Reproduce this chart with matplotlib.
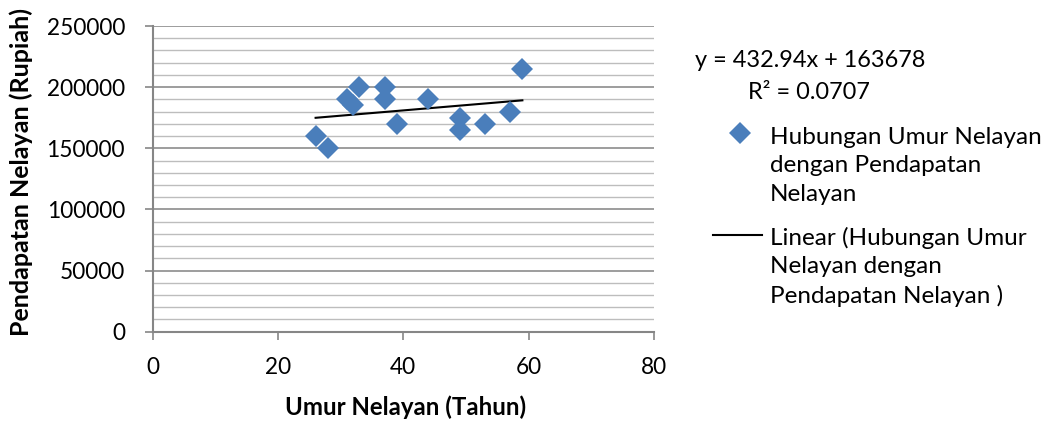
import numpy as np
import matplotlib
matplotlib.use("Agg")
import matplotlib.pyplot as plt
from matplotlib.lines import Line2D
from matplotlib.ticker import MultipleLocator

plt.rcParams['font.family'] = ['Lato', 'DejaVu Sans']

# Age of fishermen (years) and their income (Rupiah)
umur = [26, 28, 31, 32, 33, 37, 37, 39, 44, 49, 49, 53, 57, 59]
pendapatan = [160000, 150000, 190000, 185000, 200000, 200000, 190000,
              170000, 190000, 175000, 165000, 170000, 180000, 215000]

x_ticks = [0, 20, 40, 60, 80]
y_ticks = [0, 50000, 100000, 150000, 200000, 250000]

series_label = "Hubungan Umur Nelayan\ndengan Pendapatan\nNelayan"
trend_label = "Linear (Hubungan Umur\nNelayan dengan\nPendapatan Nelayan )"
equation = "y = 432.94x + 163678"
r_squared = "R² = 0.0707"

blue = '#4A7EBB'
axis_gray = '#868686'
W, H = 1048, 421

fig = plt.figure(figsize=(W / 100, H / 100), dpi=100)
ax = fig.add_axes([0.1457, 0.2121, 0.4783, 0.7261])

x = np.array(umur, dtype=float)
y = np.array(pendapatan, dtype=float)
slope, intercept = np.polyfit(x, y, 1)
xs = np.array([x.min(), x.max()])

ax.plot(xs, slope * xs + intercept, color='black', lw=1.5, zorder=3)
ax.plot(x, y, linestyle='none', marker='D', ms=11, color=blue,
        markeredgewidth=0, zorder=4)

ax.set_xlim(0, 80)
ax.set_ylim(0, 250000)
ax.set_xticks(x_ticks)
ax.set_yticks(y_ticks)
ax.yaxis.set_minor_locator(MultipleLocator(10000))

ax.grid(axis='y', which='major', color='#8c8c8c', lw=1.2, zorder=0)
ax.grid(axis='y', which='minor', color='#bdbdbd', lw=1.0, zorder=0)
ax.set_axisbelow(True)

for side in ('top', 'right'):
    ax.spines[side].set_visible(False)
for side in ('left', 'bottom'):
    ax.spines[side].set_color(axis_gray)
    ax.spines[side].set_linewidth(1.5)

ax.tick_params(axis='both', which='major', direction='out', length=6,
               width=1.2, color=axis_gray, labelsize=16.3, labelcolor='black')
ax.tick_params(axis='y', which='major', pad=14)
ax.tick_params(axis='x', which='major', pad=12)
ax.tick_params(axis='y', which='minor', length=0)

ax.set_xlabel("Umur Nelayan (Tahun)", fontsize=17.3, fontweight='bold')
ax.xaxis.set_label_coords(0.505, -0.207)
ax.set_ylabel("Pendapatan Nelayan (Rupiah)", fontsize=18.0, fontweight='bold')
ax.yaxis.set_label_coords(-0.239, 0.521)

fig.text(0.6632, 0.857, equation, fontsize=16.9, va='center', ha='left')
fig.text(0.7137, 0.781, r_squared, fontsize=16.9, va='center', ha='left')

# Legend, laid out by hand so each key sits beside the first line of its label
def fx(px):
    return px / W

def fy(py):
    return 1 - py / H

fig.add_artist(Line2D([fx(740)], [fy(133)], linestyle='none', marker='D',
                      ms=11, color=blue, markeredgewidth=0))
fig.add_artist(Line2D([fx(713), fx(762)], [fy(235), fy(235)],
                      color='black', lw=1.5))
fig.text(fx(770), fy(166), series_label, fontsize=17.5, va='center',
         ha='left', linespacing=1.42)
fig.text(fx(770), fy(267), trend_label, fontsize=17.5, va='center',
         ha='left', linespacing=1.40)

fig.savefig('out.png', dpi=100)
